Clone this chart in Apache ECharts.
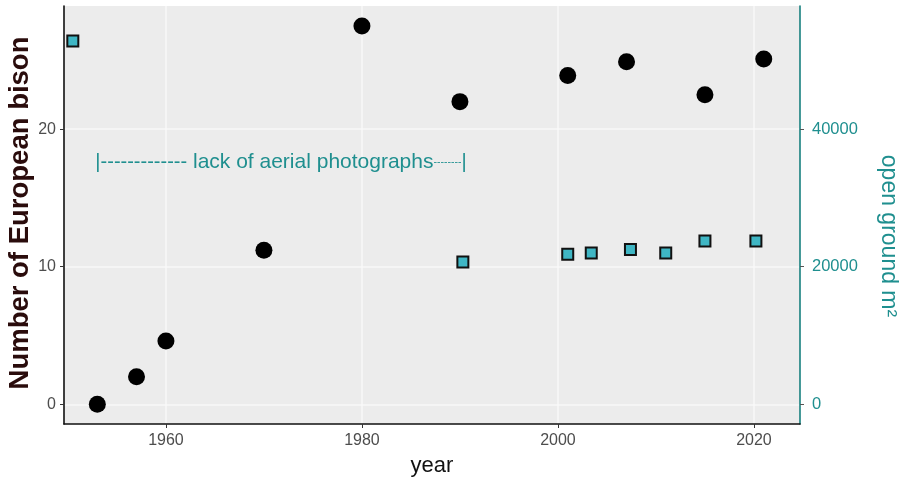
<!DOCTYPE html>
<html><head><meta charset="utf-8">
<script src="https://cdn.jsdelivr.net/npm/echarts@6/dist/echarts.min.js"></script>
<style>html,body{margin:0;padding:0;background:#fff}#c{width:899px;height:478px}</style>
</head><body><div id="c"></div>
<script>
// ---- data ----
const bisonYears  = [1953, 1957, 1960, 1970, 1980, 1990, 2001, 2007, 2015, 2021];
const bisonCounts = [0, 2, 4.6, 11.2, 27.5, 22, 23.9, 24.9, 22.5, 25.1];
const groundYears = [1950.5, 1990.3, 2001, 2003.4, 2007.4, 2011, 2015, 2020.2];
const groundArea  = [52800, 20700, 21800, 22000, 22500, 22000, 23750, 23750];
const xTicks      = [1960, 1980, 2000, 2020];
const yLeftTicks  = [0, 10, 20];
const yRightTicks = [0, 20000, 40000];
const noteText    = 'lack of aerial photographs';
const notePos     = [1952.8, 17.6];
const leftTitle   = 'Number of European bison';
const rightTitle  = 'open ground m²';

const FONT = "'Liberation Sans', Arial, sans-serif";
const TEAL = '#1f8f8f';
const plain = v => String(v);

const chart = echarts.init(document.getElementById('c'), null, {renderer: 'canvas'});
const option = {
  backgroundColor: '#ffffff',
  animation: false,
  grid: {left: 64, right: 99, top: 6, bottom: 54, containLabel: false, outerBoundsMode: 'none',
         show: true, backgroundColor: '#ececec', borderWidth: 0},
  xAxis: {
    type: 'value', min: 1949.6, max: 2024.7,
    name: 'year', nameLocation: 'middle', nameGap: 31,
    nameTextStyle: {fontFamily: FONT, fontSize: 22, color: '#111'},
    axisLine: {show: true, onZero: false, lineStyle: {color: '#111', width: 1.6}},
    axisTick: {show: true, length: 4, lineStyle: {color: '#333'}, customValues: xTicks},
    axisLabel: {fontFamily: FONT, fontSize: 16, color: '#4d4d4d', margin: 9, customValues: xTicks, formatter: plain},
    splitLine: {show: true, lineStyle: {color: '#f8f8f8', width: 1.5}}
  },
  yAxis: [{
    type: 'value', min: -1.43, max: 28.95, position: 'left',
    axisLine: {show: true, onZero: false, lineStyle: {color: '#111', width: 1.6}},
    axisTick: {show: true, length: 4, lineStyle: {color: '#333'}, customValues: yLeftTicks},
    axisLabel: {fontFamily: FONT, fontSize: 16, color: '#4d4d4d', margin: 8, customValues: yLeftTicks, formatter: plain},
    splitLine: {show: true, lineStyle: {color: '#f8f8f8', width: 1.5}}
  }, {
    type: 'value', min: -2860, max: 57900, position: 'right',
    axisLine: {show: true, onZero: false, lineStyle: {color: '#17807f', width: 1.6}},
    axisTick: {show: true, length: 4, lineStyle: {color: '#555'}, customValues: yRightTicks},
    axisLabel: {fontFamily: FONT, fontSize: 16.5, color: TEAL, margin: 12, customValues: yRightTicks, formatter: plain},
    splitLine: {show: false}
  }],
  series: [{
    type: 'scatter', name: 'bison', yAxisIndex: 0, z: 3,
    symbol: 'circle', symbolSize: 17,
    itemStyle: {color: '#000', opacity: 1},
    data: bisonYears.map((y, i) => [y, bisonCounts[i]])
  }, {
    type: 'scatter', name: 'open ground', yAxisIndex: 1, z: 4,
    symbol: 'rect', symbolSize: 11,
    itemStyle: {color: '#3fb6c4', borderColor: '#111', borderWidth: 2, opacity: 1},
    data: groundYears.map((y, i) => [y, groundArea[i]])
  }]
};
chart.setOption(option);
const p = chart.convertToPixel({gridIndex: 0}, notePos);
chart.setOption({
  graphic: [{
    type: 'text', x: p[0], y: p[1], z: 10,
    style: {
      text: '{b||}{d|-------------}{t| ' + noteText + '}{e|--------}{b||}',
      align: 'left', verticalAlign: 'middle',
      rich: {
        b: {fontFamily: FONT, fontSize: 20, fill: TEAL},
        d: {fontFamily: FONT, fontSize: 20, fill: TEAL},
        t: {fontFamily: FONT, fontSize: 21, fill: TEAL},
        e: {fontFamily: FONT, fontSize: 10.5, fill: TEAL}
      }
    }
  }, {
    type: 'text', x: 20, y: 213, rotation: Math.PI / 2, z: 10,
    style: {
      text: leftTitle, align: 'center', verticalAlign: 'middle',
      fontFamily: FONT, fontSize: 27.5, fontWeight: 'bold', fill: '#2a0c0c'
    }
  }, {
    type: 'text', x: 888, y: 236, rotation: -Math.PI / 2, z: 10,
    style: {
      text: rightTitle, align: 'center', verticalAlign: 'middle',
      fontFamily: FONT, fontSize: 23, fill: TEAL
    }
  }]
});
</script>
</body></html>
